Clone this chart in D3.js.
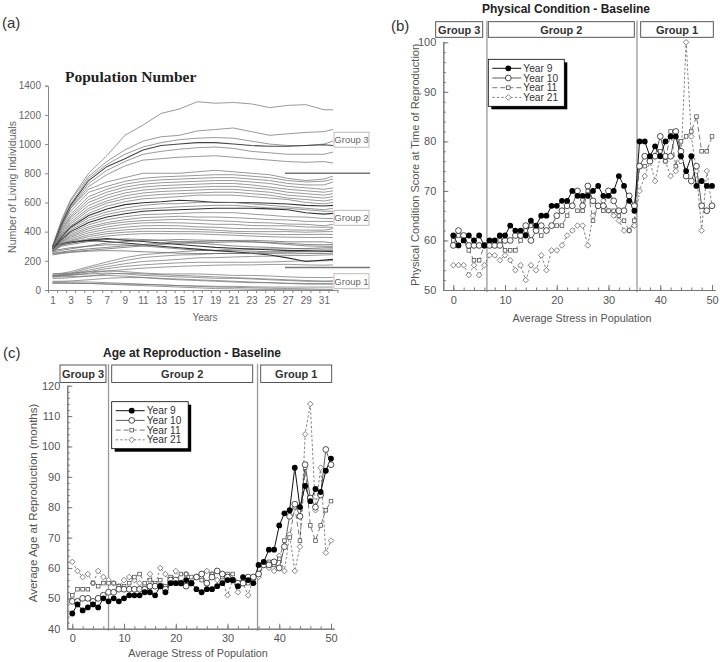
<!DOCTYPE html>
<html><head><meta charset="utf-8">
<script src="https://cdn.jsdelivr.net/npm/d3@7"></script>
<style>
body{margin:0;background:#fff}
svg{display:block}
text{font-family:"Liberation Sans",Arial,Helvetica,sans-serif}
</style>
</head><body>
<svg id="chart" width="720" height="662"></svg>
<script>
// ---------------- DATA ----------------
// Panel (a): population number per year (sampled at these years)
const popYears = [1,2,3,5,7,9,11,13,15,17,19,21,23,25,27,29,31,32];
const popYTicks = [0,200,400,600,800,1000,1200,1400];
const popXLabels = [1,3,5,7,9,11,13,15,17,19,21,23,25,27,29,31];
const popGroup3 = [
 [300,480,620,800,920,1060,1130,1210,1240,1290,1280,1285,1275,1250,1265,1270,1235,1235],
 [300,470,610,780,880,960,1020,1050,1060,1090,1100,1110,1085,1060,1070,1080,1085,1100],
 [290,460,590,765,860,930,980,1010,1030,1040,1045,1040,1020,1000,990,990,1000,1020],
 [290,450,580,750,845,900,960,990,1000,1010,1010,1000,990,985,985,990,995,990],
 [280,440,570,730,820,880,930,950,965,975,980,970,950,940,930,930,930,945],
 [280,430,560,710,790,850,890,900,910,915,920,910,900,890,880,875,880,870]
];
const popGroup2 = [
 [300,450,560,690,740,770,800,800,800,810,820,810,800,790,765,750,760,780],
 [300,440,540,670,710,745,765,775,780,785,790,790,780,770,750,740,745,760],
 [300,425,520,640,690,725,745,755,760,765,770,770,760,750,730,720,720,740],
 [290,415,505,620,670,705,725,735,740,745,750,750,740,730,710,700,690,700],
 [290,405,495,600,650,685,705,715,720,725,730,730,720,705,690,680,670,680],
 [290,395,480,580,630,665,685,695,700,705,710,710,700,690,670,660,650,660],
 [290,385,465,560,610,645,665,675,680,685,690,690,680,670,650,640,630,640],
 [290,378,452,545,595,625,645,655,660,665,670,670,660,650,630,620,610,620],
 [280,370,440,525,575,605,625,632,640,650,650,650,640,630,620,600,590,600],
 [280,362,430,510,555,585,598,605,615,610,600,600,598,595,590,580,575,580],
 [280,356,420,495,535,562,580,590,592,600,602,600,590,580,570,560,550,560],
 [280,350,410,478,518,542,556,562,570,575,580,580,572,562,560,550,540,540],
 [280,345,400,462,500,522,540,546,550,555,560,560,560,556,550,530,520,525],
 [270,340,390,447,482,502,516,520,525,530,530,530,520,512,502,500,490,490],
 [270,335,380,432,462,482,496,500,505,500,500,496,490,482,480,470,470,470],
 [270,330,370,420,450,466,476,480,485,480,475,470,462,460,452,450,440,450],
 [270,325,362,406,432,450,460,462,460,456,450,450,442,440,440,432,430,430],
 [260,320,352,392,416,430,440,442,440,432,430,422,420,420,412,410,410,420],
 [260,315,342,378,400,412,420,422,420,416,410,402,400,400,400,396,400,400],
 [260,310,335,366,386,396,402,402,400,400,396,390,386,382,380,380,382,380],
 [260,305,326,352,370,380,386,386,385,385,380,375,370,365,362,360,360,360]
];
const popCross = [
 [300,312,322,342,352,342,332,322,312,302,292,286,280,276,270,270,266,262],
 [280,300,312,332,346,350,346,340,330,322,312,302,296,292,286,282,280,282],
 [270,280,290,300,310,310,302,292,282,272,270,270,266,262,260,266,270,272],
 [300,318,330,340,332,322,312,300,290,280,270,262,252,240,220,195,205,210],
 [250,260,270,282,292,302,312,322,330,332,336,340,340,336,330,330,330,322],
 [250,255,262,272,282,292,302,312,320,322,326,330,330,326,320,312,310,312],
 [260,272,282,302,322,332,340,342,346,342,340,336,330,322,312,302,300,300],
 [240,250,258,266,270,268,262,258,252,250,250,250,250,250,248,250,250,252]
];
const popRising = [
 [110,115,125,160,192,222,242,252,262,270,272,280,282,282,282,284,290,292],
 [100,105,115,150,176,202,222,232,240,242,250,252,254,260,260,262,262,270],
 [100,104,110,136,160,180,196,202,210,220,222,226,230,232,236,236,240,242],
 [95,100,105,126,146,162,172,180,186,190,190,190,190,192,196,200,200,202],
 [90,94,100,116,130,140,150,156,162,166,170,172,172,175,176,172,170,172]
];
const popGroup1 = [
 [110,112,116,125,130,126,116,110,110,110,106,100,100,96,90,86,85,86],
 [100,100,104,110,116,110,100,95,90,86,80,80,76,70,65,60,60,62],
 [90,90,92,96,100,95,86,76,70,65,60,55,50,50,46,45,45,45],
 [80,80,85,95,110,115,110,105,100,95,90,85,80,75,70,65,60,60],
 [60,60,62,70,80,85,85,80,75,70,65,60,55,50,45,40,40,40],
 [55,55,55,55,50,45,40,35,30,25,20,18,15,12,10,8,5,5],
 [50,50,48,45,40,35,30,25,20,15,10,8,5,3,2,1,0,0],
 [45,45,45,45,42,40,38,35,30,28,25,25,22,20,20,20,20,20]
];
const groupNamesA = ["Group 3","Group 2","Group 1"];
const groupSplitValues = [800,155];

// Panels (b), (c): values per level of average stress
const stressLevels = [0,1,2,3,4,5,6,7,8,9,10,11,12,13,14,15,16,17,18,19,20,21,22,23,24,25,26,27,28,29,30,31,32,33,34,35,36,37,38,39,40,41,42,43,44,45,46,47,48,49,50];
const seriesNames = ["Year 9","Year 10","Year 11","Year 21"];
const condYear9  = [61,59,60,61,60,61,59,60,60,61,61,63,62,62,61,64,63,65,65,67,67,68,68,70,69,69,69,70,71,69,69,70,73,71,68,66,80,80,77,79,77,80,81,81,77,74,77,71,72,71,71];
const condYear10 = [59,62,61,59,59,59,59,59,59,59,60,60,61,61,63,60,62,63,62,63,65,66,67,67,70,67,71,68,67,67,70,68,66,66,69,67,75,77,76,77,81,77,77,82,78,73,72,75,67,66,67];
const condYear11 = [60,61,60,58,56,56,59,59,59,60,58,58,58,60,62,63,62,61,62,63,63,63,65,67,66,66,70,64,67,66,66,66,65,64,62,64,75,75,76,77,78,76,82,75,80,81,82,85,78,78,81];
const condYear21 = [55,55,55,53,55,53,55,57,57,56,57,56,54,55,52,55,54,57,54,58,58,59,61,62,63,63,59,65,67,68,66,65,64,62,62,63,70,73,76,72,77,76,73,74,76,100,81,74,62,74,67];
const ageYear9  = [45,48,46,47,48,47,50,49,50,49,50,51,51,51,52,52,51,54,52,55,55,55,56,55,53,52,53,53,54,55,56,56,54,57,56,55,61,62,66,66,74,78,79,93,80,87,82,86,85,92,96];
const ageYear10 = [49,49,50,50,49,50,51,52,52,53,53,53,53,53,53,54,54,54,53,56,56,55,54,55,57,58,55,57,59,58,57,56,55,55,57,57,58,61,61,62,60,67,77,81,77,94,83,80,84,99,94];
const ageYear11 = [51,53,53,53,55,54,55,55,55,54,54,55,57,58,55,56,55,56,54,57,56,58,58,57,57,56,55,58,59,57,58,58,55,56,55,56,58,62,62,61,63,69,70,80,69,93,74,69,74,79,82];
const ageYear21 = [62,59,57,58,55,59,57,56,55,54,56,57,56,55,54,58,54,60,58,55,59,55,58,55,57,58,59,58,56,56,51,56,52,55,51,57,57,61,60,59,64,59,71,59,67,104,114,79,93,65,69];
const condTicks = [50,60,70,80,90,100];
const ageTicks = [40,50,60,70,80,90,100,110,120];
const stressTicks = [0,10,20,30,40,50];
const groupNamesBC = ["Group 3","Group 2","Group 1"];
const groupBoundaries = [6.5,35.5];
const groupBoundariesC = [7,35.8];

// ---------------- DRAWING ----------------
const svg = d3.select("#chart");

// ===== Panel (a) =====
const xA = d3.scaleLinear().domain([0.5,32.5]).range([48,337.5]);
const yA = d3.scaleLinear().domain([0,1400]).range([290,85.7]);
const gA = svg.append("g");
gA.append("text").attr("x",2).attr("y",28).attr("font-size",15).attr("fill","#333").text("(a)");
gA.append("text").attr("x",65).attr("y",82).attr("font-size",15.5).attr("font-weight","bold")
  .attr("fill","#222").style("font-family","'Liberation Serif','Times New Roman',serif").text("Population Number");

const axYA = gA.append("g").attr("transform","translate(48,0)")
  .call(d3.axisLeft(yA).tickValues(popYTicks).tickSize(3).tickPadding(4).tickFormat(d3.format("d")));
axYA.selectAll("text").attr("font-size",10).attr("fill","#666").style("font-family","'Liberation Sans',Arial,sans-serif");
axYA.selectAll("line,path").attr("stroke","#888");
const halfYears = d3.range(0.5,33,1);
const axXA = gA.append("g").attr("transform","translate(0,290)")
  .call(d3.axisBottom(xA).tickValues(halfYears).tickSize(3).tickSizeOuter(0).tickFormat(""));
axXA.selectAll("line,path").attr("stroke","#888");
const axXAL = gA.append("g").attr("transform","translate(0,290)")
  .call(d3.axisBottom(xA).tickValues(popXLabels).tickSize(0).tickPadding(7));
axXAL.select("path").remove();
axXAL.selectAll("text").attr("font-size",10).attr("fill","#666").style("font-family","'Liberation Sans',Arial,sans-serif");
gA.append("text").attr("x",205).attr("y",321).attr("text-anchor","middle").attr("font-size",10).attr("fill","#666").text("Years");
gA.append("text").attr("transform","translate(16,187) rotate(-90)").attr("text-anchor","middle")
  .attr("font-size",10.5).attr("fill","#666").text("Number of Living Individuals");

const lineA = d3.line().x((d,i)=>xA(popYears[i])).y(d=>yA(d));
function drawPop(arr, styleFn){
  gA.append("g").selectAll("path").data(arr).join("path")
    .attr("d",lineA).attr("fill","none")
    .attr("stroke",(d,i)=>styleFn(i).c).attr("stroke-width",(d,i)=>styleFn(i).w);
}
drawPop(popGroup1, i=>({c:"#777",w:0.75}));
drawPop(popRising, i=>({c:"#777",w:0.75}));
drawPop(popCross, i=>({c:(i===0||i===3)?"#333":"#666",w:(i===0||i===3)?1.1:0.75}));
drawPop(popGroup2, i=>({c:(i===9||i===12)?"#333":"#777",w:(i===9||i===12)?1.05:0.75}));
drawPop(popGroup3, i=>({c:i===3?"#444":"#777",w:i===3?1.05:0.75}));

// split lines and group boxes
gA.selectAll("line.split").data(groupSplitValues).join("line").attr("class","split")
  .attr("x1",285).attr("x2",370).attr("y1",d=>yA(d)).attr("y2",d=>yA(d))
  .attr("stroke","#777").attr("stroke-width",1.5);
const boxYA = [yA(1030), yA(495), yA(60)];
groupNamesA.forEach((n,i)=>{
  gA.append("rect").attr("x",334).attr("y",boxYA[i]-7.5).attr("width",35).attr("height",15)
    .attr("fill","#fff").attr("stroke","#aaa").attr("stroke-width",0.8);
  gA.append("text").attr("x",351.5).attr("y",boxYA[i]+3.6).attr("text-anchor","middle")
    .attr("font-size",9.5).attr("fill","#666").text(n);
});

// ===== Shared scatter panel function =====
function scatterPanel(opt){
  const g = svg.append("g");
  const x = d3.scaleLinear().domain([0,50]).range(opt.xr);
  const y = d3.scaleLinear().domain(opt.yd).range(opt.yr);
  g.append("text").attr("x",opt.tagX).attr("y",opt.tagY).attr("font-size",15).attr("fill","#333").text(opt.tag);
  g.append("text").attr("x",opt.titleX).attr("y",opt.titleY).attr("text-anchor","middle")
    .attr("font-size",12).attr("font-weight","bold").attr("fill","#222").text(opt.title);
  // group boxes
  opt.boxes.forEach((b,i)=>{
    g.append("rect").attr("x",b[0]).attr("y",opt.boxY).attr("width",b[1]-b[0]).attr("height",opt.boxH)
      .attr("fill","#fff").attr("stroke","#444").attr("stroke-width",0.9);
    g.append("text").attr("x",(b[0]+b[1])/2).attr("y",opt.boxY+opt.boxH/2+4).attr("text-anchor","middle")
      .attr("font-size",11).attr("font-weight","bold").attr("fill","#333").text(groupNamesBC[i]);
  });
  // vertical group boundaries
  g.selectAll("line.vb").data(opt.bounds).join("line").attr("class","vb")
    .attr("x1",d=>x(d)).attr("x2",d=>x(d)).attr("y1",opt.boxY-1).attr("y2",opt.yr[0]+2)
    .attr("stroke","#999").attr("stroke-width",1.3);
  // axes
  const yMinor = d3.range(opt.yd[0], opt.yd[1]+0.01, opt.yMinorStep);
  const ay2 = g.append("g").attr("transform",`translate(${opt.axisX},0)`)
    .call(d3.axisLeft(y).tickValues(yMinor).tickSizeInner(-2.5).tickSizeOuter(0).tickFormat(""));
  ay2.selectAll("line,path").attr("stroke","#777");
  const ay = g.append("g").attr("transform",`translate(${opt.axisX},0)`)
    .call(d3.axisLeft(y).tickValues(opt.yTicks).tickSizeInner(-5).tickSizeOuter(0).tickPadding(7));
  ay.selectAll("line,path").attr("stroke","#777");
  ay.selectAll("text").attr("font-size",11).attr("fill","#555").style("font-family","'Liberation Sans',Arial,sans-serif");
  const xAxisScale = d3.scaleLinear().domain([x.invert(opt.axisX), 50.6]).range([opt.axisX, x(50.6)]);
  const ax2 = g.append("g").attr("transform",`translate(0,${opt.yr[0]})`)
    .call(d3.axisBottom(xAxisScale).tickValues(d3.range(0,51,2)).tickSizeInner(-2.5).tickSizeOuter(0).tickFormat(""));
  ax2.selectAll("line,path").attr("stroke","#777");
  const ax = g.append("g").attr("transform",`translate(0,${opt.yr[0]})`)
    .call(d3.axisBottom(xAxisScale).tickValues(stressTicks).tickSizeInner(-5).tickSizeOuter(0).tickPadding(6));
  ax.selectAll("line,path").attr("stroke","#777");
  ax.selectAll("text").attr("font-size",11).attr("fill","#555").style("font-family","'Liberation Sans',Arial,sans-serif");
  g.append("text").attr("x",opt.xLabX).attr("y",opt.xLabY).attr("text-anchor","middle")
    .attr("font-size",10.8).attr("fill","#555").text(opt.xLabel);
  g.append("text").attr("transform",`translate(${opt.yLabX},${opt.yLabY}) rotate(-90)`).attr("text-anchor","middle")
    .attr("font-size",opt.yLabSize).attr("fill","#555").text(opt.yLabel);

  // series
  const styles = [
    {stroke:"#111",w:1,dash:null,marker:"fill"},
    {stroke:"#333",w:0.8,dash:null,marker:"circle"},
    {stroke:"#555",w:0.8,dash:"5,3",marker:"square"},
    {stroke:"#666",w:0.8,dash:"2.5,2",marker:"diamond"}
  ];
  function marker(sel, type){
    if(type==="fill") sel.append("circle").attr("r",2.9).attr("fill","#000");
    else if(type==="circle") sel.append("circle").attr("r",2.9).attr("fill","#fff").attr("stroke","#222").attr("stroke-width",0.8);
    else if(type==="square") sel.append("rect").attr("x",-1.8).attr("y",-1.8).attr("width",3.6).attr("height",3.6).attr("fill","#fff").attr("stroke","#555").attr("stroke-width",0.8);
    else sel.append("path").attr("d","M0,-2.8L2.8,0L0,2.8L-2.8,0Z").attr("fill","#fff").attr("stroke","#666").attr("stroke-width",0.8);
  }
  const line = d3.line().x((d,i)=>x(stressLevels[i])).y(d=>y(d));
  const order = [3,2,1,0];
  order.forEach(si=>{
    const st = styles[si], vals = opt.series[si];
    g.append("path").attr("d",line(vals)).attr("fill","none").attr("stroke",st.stroke)
      .attr("stroke-width",st.w).attr("stroke-dasharray",st.dash);
  });
  order.forEach(si=>{
    const st = styles[si], vals = opt.series[si];
    g.append("g").selectAll("g").data(vals).join("g")
      .attr("transform",(d,i)=>`translate(${x(stressLevels[i])},${y(d)})`)
      .each(function(){ marker(d3.select(this), st.marker); });
  });
  // legend
  const L = opt.legend;
  g.append("rect").attr("x",L.x+3).attr("y",L.y+3).attr("width",L.w).attr("height",L.h).attr("fill","#000");
  g.append("rect").attr("x",L.x).attr("y",L.y).attr("width",L.w).attr("height",L.h).attr("fill","#fff").attr("stroke","#000").attr("stroke-width",0.8);
  seriesNames.forEach((n,i)=>{
    const st = styles[i], yy = L.y + 9 + i*9.7;
    g.append("line").attr("x1",L.x+4).attr("x2",L.x+33).attr("y1",yy).attr("y2",yy)
      .attr("stroke",st.stroke).attr("stroke-width",st.w).attr("stroke-dasharray",st.dash);
    marker(g.append("g").attr("transform",`translate(${L.x+20},${yy})`), st.marker);
    g.append("text").attr("x",L.x+35).attr("y",yy+3.5).attr("font-size",10.2).attr("fill","#333").text(n);
  });
}

// ===== Panel (b) =====
scatterPanel({
  xr:[453.3,712], yd:[50,100], yr:[290,42.3], axisX:443.3,
  yTicks:condTicks, yMinorStep:2,
  tag:"(b)", tagX:391, tagY:31,
  title:"Physical Condition - Baseline", titleX:566, titleY:13,
  boxY:21.7, boxH:15.6, boxes:[[435.7,482.7],[488.3,634.3],[640.7,713.3]],
  bounds:groupBoundaries,
  xLabel:"Average Stress in Population", xLabX:582, xLabY:322,
  yLabel:"Physical Condition Score at Time of Reproduction", yLabX:419, yLabY:165, yLabSize:11,
  series:[condYear9,condYear10,condYear11,condYear21],
  legend:{x:488.3,y:59.3,w:76,h:47}
});

// ===== Panel (c) =====
scatterPanel({
  xr:[72.3,331], yd:[40,120], yr:[628.7,385.7], axisX:67.3,
  yTicks:ageTicks, yMinorStep:2,
  tag:"(c)", tagX:3, tagY:358,
  title:"Age at Reproduction - Baseline", titleX:192, titleY:357,
  boxY:365, boxH:17.5, boxes:[[60,106],[111.7,252.7],[260.7,331.7]],
  bounds:groupBoundariesC,
  xLabel:"Average Stress of Population", xLabX:198, xLabY:657,
  yLabel:"Average Age at Reproduction (months)", yLabX:37, yLabY:503, yLabSize:11.5,
  series:[ageYear9,ageYear10,ageYear11,ageYear21],
  legend:{x:111.7,y:401.7,w:76.5,h:47}
});
</script>
</body></html>
